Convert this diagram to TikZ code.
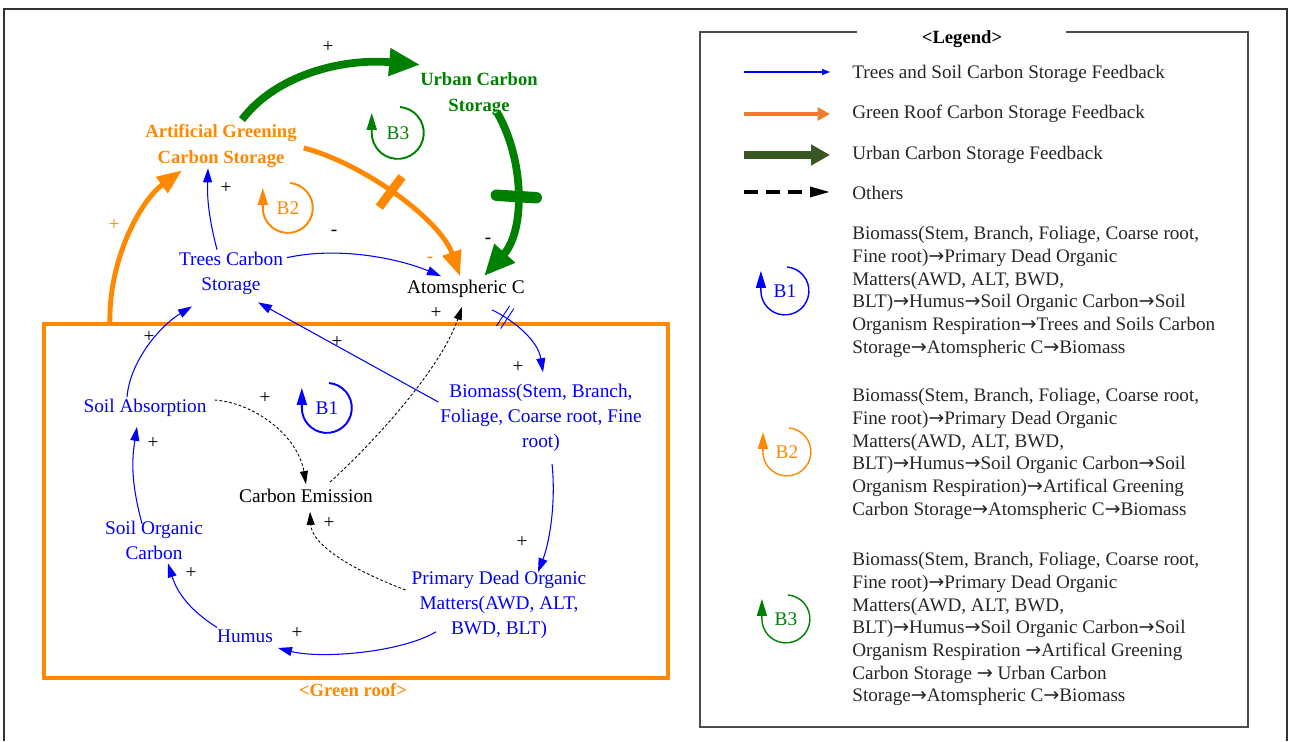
\documentclass[tikz,border=0pt]{standalone}
\usepackage{fontspec}
\setmainfont{Liberation Serif}
\newfontfamily\arrowfont{DejaVu Sans}
\newcommand{\toarr}{{\arrowfont →}}
\usetikzlibrary{arrows.meta,positioning,calc,decorations.markings}

\definecolor{loopblue}{RGB}{0,0,255}
\definecolor{rooforange}{RGB}{255,136,0}
\definecolor{urbangreen}{RGB}{0,128,0}
\definecolor{legorange}{RGB}{237,125,49}
\definecolor{leggreen}{RGB}{56,87,35}

\begin{document}
\begin{tikzpicture}[
    x=0.02cm, y=0.02cm, % 1 unit = 1 pixel of the layout
    font=\fontsize{11}{14.2}\selectfont,
    >=Latex,
    % variables
    var/.style={align=center, inner sep=1pt, text=loopblue},
    keyvar/.style={align=center, inner sep=1pt, font=\fontsize{10.6}{14.4}\selectfont\bfseries},
    sign/.style={inner sep=0pt},
    % links
    bluelink/.style={draw=loopblue, line width=0.6pt, -{Triangle[length=0.28cm, width=0.18cm]}},
    orangelink/.style={draw=rooforange, line width=2.8pt, -{Triangle[length=0.5cm, width=0.38cm]}},
    greenlink/.style={draw=urbangreen, line width=4.4pt, -{Triangle[length=0.62cm, width=0.52cm]}},
    otherlink/.style={draw=black, line width=0.5pt, dash pattern=on 1.6pt off 1.2pt, -{Triangle[length=0.26cm, width=0.16cm]}},
    % delay marks
    greendelay/.style={postaction={decorate, decoration={markings,
        mark=at position #1 with {\draw[urbangreen, line width=6.5pt, line cap=round, -] (0cm,-0.4cm) -- (0cm,0.4cm);}}}},
    orangedelay/.style={postaction={decorate, decoration={markings,
        mark=at position #1 with {\draw[rooforange, line width=5pt, -] (0cm,-0.38cm) -- (0cm,0.38cm);}}}},
    bluedelay/.style={postaction={decorate, decoration={markings,
        mark=at position #1 with {\draw[loopblue, line width=0.5pt, -] (-0.05cm,-0.24cm) -- (-0.05cm,0.24cm) (0.05cm,-0.24cm) -- (0.05cm,0.24cm);}}}},
    % loops, boxes, legend
    loopline/.style={line width=1.1pt, -{Triangle[length=0.34cm, width=0.2cm]}},
    roofbox/.style={draw=rooforange, line width=2.4pt, outer sep=0pt},
    legtext/.style={anchor=west, inner sep=0pt, text=black!85, font=\fontsize{10.9}{12.93}\selectfont},
    legblock/.style={anchor=north west, inner sep=0pt, align=left, text=black!85, font=\fontsize{10.9}{12.93}\selectfont}
]
    \useasboundingbox (0,0) rectangle (1289,741);

    % --- 0. Frame ---
    \draw[black!80, line width=1.2pt] (4,0) -- (4,732) -- (1287,732) -- (1287,0);

    % --- 1. Green roof ---
    \node[roofbox, minimum width=12.48cm, minimum height=7.08cm, anchor=south west] (roof) at (44,63) {};
    \node[text=rooforange, font=\fontsize{10.6}{12}\selectfont\bfseries] (roof_label) at (353,51) {<Green roof>};

    % --- 2. Variables ---
    \node[keyvar, text=urbangreen] (urban) at (479,647) {Urban Carbon\\Storage};
    \node[keyvar, text=rooforange] (artif) at (221,595) {Artificial Greening\\Carbon Storage};
    \node[var] (trees) at (231,468) {Trees Carbon\\Storage};
    \node[var, text=black] (atmos) at (466,452) {Atomspheric C};
    \node[var] (biomass) at (541,323) {Biomass(Stem, Branch,\\Foliage, Coarse root, Fine\\root)};
    \node[var] (soilabs) at (145,333) {Soil Absorption};
    \node[var, text=black] (emission) at (306,245) {Carbon Emission};
    \node[var] (soc) at (154,201) {Soil Organic\\Carbon};
    \node[var] (pdom) at (499,136) {Primary Dead Organic\\Matters(AWD, ALT,\\BWD, BLT)};
    \node[var] (humus) at (245,105) {Humus};

    % --- 3. Links ---
    % urban carbon storage feedback
    \draw[greenlink] ($(artif.north)+(21,3)$) .. controls (275,665) and (340,683) .. ($(urban.north west)+(2,6)$);
    \draw[greenlink, greendelay=0.5] ($(urban.south)+(18,5)$) .. controls (525,580) and (525,510) .. ($(atmos.north)+(18,2)$);
    % green roof feedback
    \draw[orangelink] ($(roof.north west)+(66,0)$) .. controls (108,480) and (140,540) .. ($(artif.south)+(-39,-1)$);
    \draw[orangelink, orangedelay=0.47] ($(artif.east)+(5,-2)$) .. controls (362,578) and (440,522) .. ($(atmos.north)+(-6,2)$);
    % trees and soil feedback
    \draw[bluelink] ($(trees.north)+(-14,0)$) to[bend left=8] ($(artif.south)+(-13,1)$);
    \draw[bluelink] ($(trees.north east)+(2,-8)$) .. controls (340,495) and (400,482) .. ($(atmos.north)+(-25,2)$);
    \draw[bluelink] ($(soilabs.north)+(-18,0)$) .. controls (130,380) and (160,415) .. ($(trees.south)+(-39,-10)$);
    \draw[bluelink] ($(biomass.west)+(0,16)$) -- ($(trees.south)+(27,-6)$);
    \draw[bluelink, bluedelay=0.18] ($(atmos.south)+(26,-10)$) .. controls (515,420) and (538,400) .. ($(biomass.north)+(2,10)$);
    \draw[bluelink] ($(biomass.south)+(11,-10)$) .. controls (556,240) and (550,200) .. ($(pdom.north)+(39,-3)$);
    \draw[bluelink] ($(pdom.south)+(-63,9)$) .. controls (400,88) and (320,82) .. ($(humus.east)+(3,-12)$);
    \draw[bluelink] ($(humus.north west)+(2,0)$) to[bend left=20] ($(soc.south)+(14,-2)$);
    \draw[bluelink] ($(soc.north)+(-12,-5)$) to[bend left=12] ($(soilabs.south)+(-8,-8)$);
    % others
    \draw[otherlink] ($(soilabs.east)+(6,8)$) .. controls (255,338) and (298,305) .. ($(emission.north)+(0,3)$);
    \draw[otherlink] ($(emission.north east)+(-45,5)$) .. controls (370,295) and (440,370) .. ($(atmos.south)+(-4,-7)$);
    \draw[otherlink] ($(pdom.west)+(-4,15)$) .. controls (355,170) and (312,195) .. ($(emission.south)+(4,-7)$);

    % polarities
    \node[sign] (s_au) at (328,694) {+};
    \node[sign] (s_ua) at (488,500) {-};
    \node[sign, text=rooforange] (s_ra) at (114,516) {+};
    \node[sign, text=rooforange] (s_aa) at (430,481) {-};
    \node[sign] (s_ta) at (226,553) {+};
    \node[sign] (s_tc) at (334,508) {-};
    \node[sign] (s_st) at (149,404) {+};
    \node[sign] (s_bt) at (337,399) {+};
    \node[sign] (s_ab) at (518,374) {+};
    \node[sign] (s_bp) at (522,199) {+};
    \node[sign] (s_ph) at (297,108) {+};
    \node[sign] (s_hs) at (191,168) {+};
    \node[sign] (s_so) at (153,298) {+};
    \node[sign] (s_se) at (265,343) {+};
    \node[sign] (s_ea) at (436,428) {+};
    \node[sign] (s_pe) at (329,218) {+};

    % --- 4. Loop markers ---
    \node[text=loopblue] (b1_mark) at (327,333) {B1};
    \draw[loopline, draw=loopblue] ($(b1_mark)+(2,25)$) arc[start angle=85, end angle=-180, radius=25] -- ++(0,20);
    \node[text=rooforange] (b2_mark) at (288,533) {B2};
    \draw[loopline, draw=rooforange] ($(b2_mark)+(2,25)$) arc[start angle=85, end angle=-180, radius=25] -- ++(0,20);
    \node[text=urbangreen] (b3_mark) at (398,608) {B3};
    \draw[loopline, draw=urbangreen] ($(b3_mark)+(2,26)$) arc[start angle=85, end angle=-180, radius=26] -- ++(0,20);

    % --- 5. Legend ---
    \draw[black!70, line width=0.8pt] (857,709) -- (700,709) -- (700,14) -- (1248,14) -- (1248,709) -- (1066,709);
    \node[font=\fontsize{10.6}{12}\selectfont\bfseries] (leg_title) at (962,702) {<Legend>};

    \node[legtext] (leg_blue) at (852,667) {Trees and Soil Carbon Storage Feedback};
    \draw[draw=loopblue, line width=0.6pt, -{Triangle[length=0.16cm, width=0.12cm]}] ($(leg_blue.west)+(-108,2)$) -- ($(leg_blue.west)+(-22,2)$);
    \node[legtext] (leg_orange) at (852,627) {Green Roof Carbon Storage Feedback};
    \draw[draw=legorange, line width=2.8pt, -{Triangle[length=0.25cm, width=0.26cm]}] ($(leg_orange.west)+(-108,0)$) -- ($(leg_orange.west)+(-22,0)$);
    \node[legtext] (leg_green) at (852,586) {Urban Carbon Storage Feedback};
    \draw[draw=leggreen, line width=4pt, -{Triangle[length=0.38cm, width=0.4cm]}] ($(leg_green.west)+(-108,0)$) -- ($(leg_green.west)+(-22,0)$);
    \node[legtext] (leg_other) at (852,548) {Others};
    \draw[draw=black, line width=1.8pt, dash pattern=on 0.28cm off 0.16cm, -{Triangle[length=0.4cm, width=0.2cm]}] ($(leg_other.west)+(-108,1)$) -- ($(leg_other.west)+(-22,1)$);

    \node[text=loopblue] (leg_b1) at (785,450) {B1};
    \draw[loopline, draw=loopblue, line width=0.8pt] ($(leg_b1)+(2,24)$) arc[start angle=85, end angle=-180, radius=24] -- ++(0,20);
    \node[legblock] (leg_b1_text) at (852,515) {Biomass(Stem, Branch, Foliage, Coarse root,\\Fine root)\toarr Primary Dead Organic\\Matters(AWD, ALT, BWD,\\BLT)\toarr Humus\toarr Soil Organic Carbon\toarr Soil\\Organism Respiration\toarr Trees and Soils Carbon\\Storage\toarr Atomspheric C\toarr Biomass};

    \node[text=rooforange] (leg_b2) at (787,289) {B2};
    \draw[loopline, draw=rooforange, line width=0.8pt] ($(leg_b2)+(2,24)$) arc[start angle=85, end angle=-180, radius=24] -- ++(0,20);
    \node[legblock] (leg_b2_text) at (852,353) {Biomass(Stem, Branch, Foliage, Coarse root,\\Fine root)\toarr Primary Dead Organic\\Matters(AWD, ALT, BWD,\\BLT)\toarr Humus\toarr Soil Organic Carbon\toarr Soil\\Organism Respiration)\toarr Artifical Greening\\Carbon Storage\toarr Atomspheric C\toarr Biomass};

    \node[text=urbangreen] (leg_b3) at (786,122) {B3};
    \draw[loopline, draw=urbangreen, line width=0.8pt] ($(leg_b3)+(2,24)$) arc[start angle=85, end angle=-180, radius=24] -- ++(0,20);
    \node[legblock] (leg_b3_text) at (852,189) {Biomass(Stem, Branch, Foliage, Coarse root,\\Fine root)\toarr Primary Dead Organic\\Matters(AWD, ALT, BWD,\\BLT)\toarr Humus\toarr Soil Organic Carbon\toarr Soil\\Organism Respiration \toarr Artifical Greening\\Carbon Storage \toarr{} Urban Carbon\\Storage\toarr Atomspheric C\toarr Biomass};
\end{tikzpicture}
\end{document}
